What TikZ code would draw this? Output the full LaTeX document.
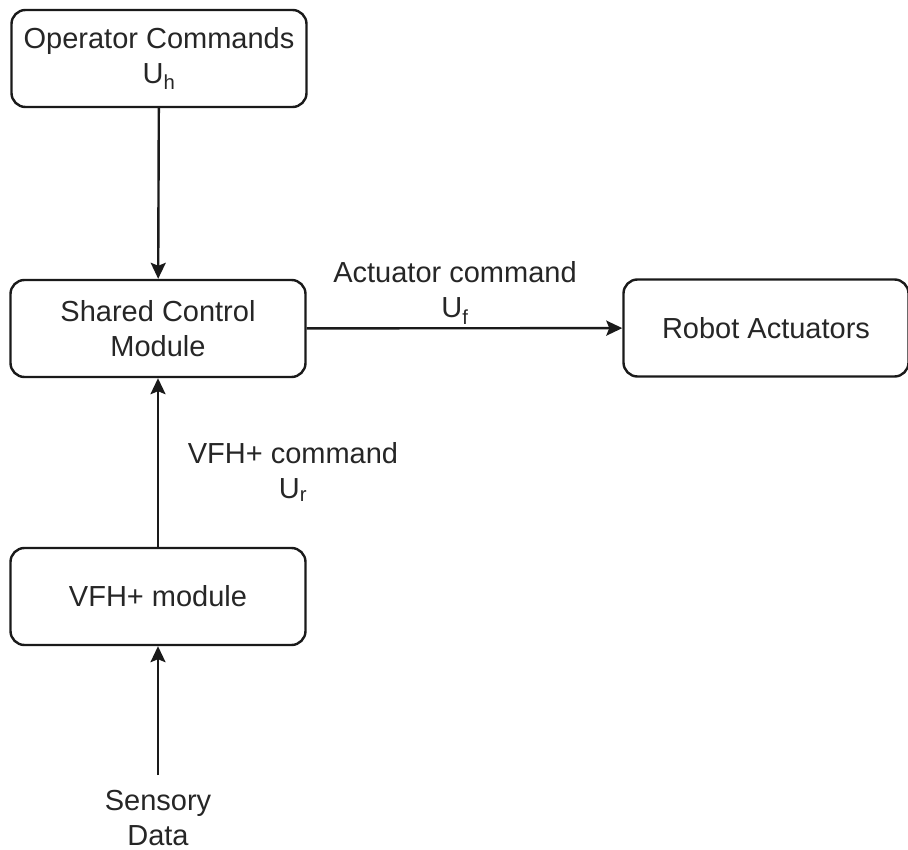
\documentclass[tikz,border=0pt]{standalone}
\usepackage{fontspec}
\setmainfont{Liberation Sans}
\usetikzlibrary{arrows.meta}
\definecolor{txt}{HTML}{262626}
\definecolor{ln}{HTML}{1A1A1A}
\tikzset{
  box/.style={draw=ln, line width=2.4pt, rounded corners=14pt, minimum width=295pt, minimum height=97pt, align=center, text=txt, font=\fontsize{29}{35}\selectfont},
  lbl/.style={align=center, text=txt, font=\fontsize{29}{35}\selectfont, inner sep=0pt},
  arr/.style={draw=ln, line width=2.4pt, -{Stealth[length=16pt,width=15pt,inset=3pt]}}
}
\begin{document}
\begin{tikzpicture}[x=1pt,y=-1pt]
\useasboundingbox (0,0) rectangle (908,850);
\node[box] (op) at (159,58.5) {Operator Commands\\U\textsubscript{h}};
\node[box] (sc) at (158,328.5) {Shared Control\\Module};
\node[box, minimum width=285pt] (ra) at (766,328) {Robot Actuators};
\node[box] (vfh) at (158,596.5) {VFH+ module};
\node[lbl, outer sep=15pt] (sd) at (158,818) {Sensory\\Data};
\node[lbl] (al) at (455,293) {Actuator command\\U\textsubscript{f}};
\node[lbl] (vl) at (293,472) {VFH+ command\\U\textsubscript{r}};
\draw[arr] (op) -- (sc);
\draw[arr] (sc) -- (ra);
\draw[arr] (vfh) -- (sc);
\draw[arr] (sd) -- (vfh);
\end{tikzpicture}
\end{document}
